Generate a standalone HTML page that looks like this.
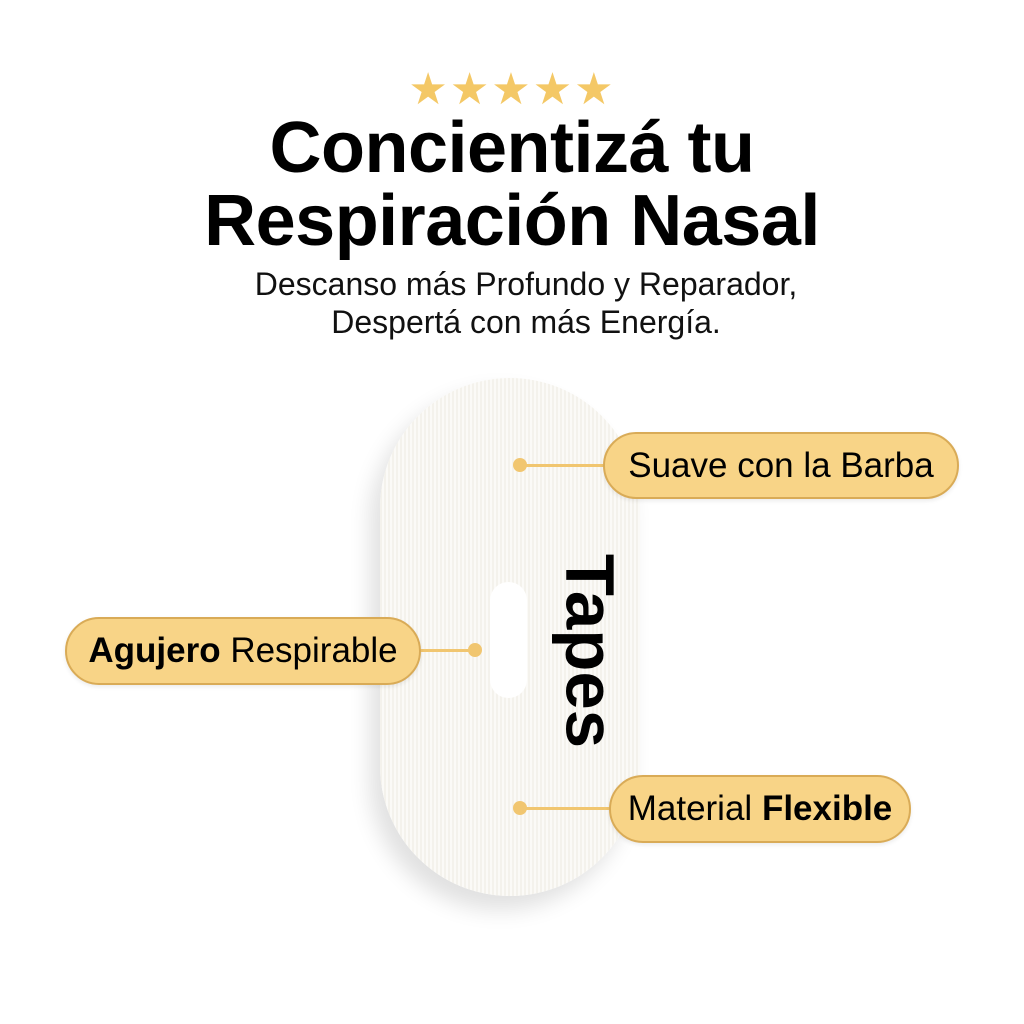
<!DOCTYPE html>
<html><head><meta charset="utf-8"><style>
body{margin:0;width:1024px;height:1024px;background:#fff;position:relative;overflow:hidden;font-family:"Liberation Sans",Arial,sans-serif;color:#000}
.abs{position:absolute}
.stars{left:0;width:1024px;top:68px;text-align:center;font-size:44px;color:#f4c866;letter-spacing:2px;line-height:44px}
.t{left:0;width:1024px;text-align:center;font-weight:bold;font-size:72px;line-height:74px;letter-spacing:-0.5px}
.s{left:14px;width:1024px;text-align:center;font-size:32px;line-height:37px;color:#111}
.tape{left:380px;top:378px;width:260px;height:518px;border-radius:130px;background:repeating-linear-gradient(90deg,#f4f2ec 0 2px,#fbfaf7 2px 4px);box-shadow:-10px 14px 22px rgba(0,0,0,0.12)}
.slot{left:490px;top:582px;width:37px;height:116px;border-radius:19px;background:#fff}
.tapes{left:590px;top:651px;transform:translate(-50%,-50%) rotate(90deg);font-weight:bold;font-size:69px;white-space:nowrap}
.pill{background:#f8d487;border:2px solid #d9ab57;border-radius:34px;box-sizing:border-box;font-size:35px;display:flex;align-items:center;justify-content:center;box-shadow:0 2px 4px rgba(0,0,0,0.08);white-space:nowrap}
.line{height:3px;background:#f1c670}
.dot{width:14px;height:14px;border-radius:7px;background:#f1c670}
</style></head><body>
<div class="abs stars">★★★★★</div>
<div class="abs t" style="top:111px">Concientizá tu</div>
<div class="abs t" style="top:184px">Respiración Nasal</div>
<div class="abs s" style="top:266px">Descanso más Profundo y Reparador,</div>
<div class="abs s" style="top:304px">Despertá con más Energía.</div>
<div class="abs tape"></div>
<div class="abs slot"></div>
<div class="abs tapes">Tapes</div>
<div class="abs line" style="left:520px;top:464px;width:90px"></div>
<div class="abs dot" style="left:513px;top:458px"></div>
<div class="abs pill" style="left:603px;top:432px;width:356px;height:67px">Suave con la Barba</div>
<div class="abs line" style="left:415px;top:649px;width:60px"></div>
<div class="abs dot" style="left:468px;top:643px"></div>
<div class="abs pill" style="left:65px;top:617px;width:356px;height:68px"><b>Agujero</b>&nbsp;Respirable</div>
<div class="abs line" style="left:520px;top:807px;width:95px"></div>
<div class="abs dot" style="left:513px;top:801px"></div>
<div class="abs pill" style="left:609px;top:775px;width:302px;height:68px">Material&nbsp;<b>Flexible</b></div>
</body></html>
